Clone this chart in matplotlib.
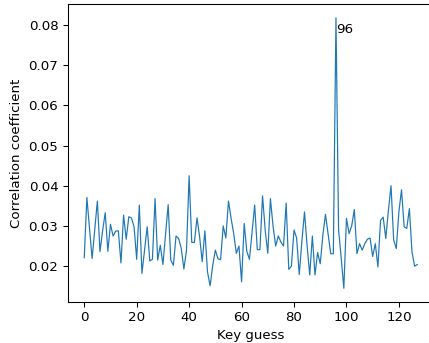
import matplotlib
matplotlib.use("Agg")
import matplotlib.pyplot as plt
import numpy as np

key_guess = list(range(128))
corr = [
    0.0221, 0.0371, 0.0295, 0.0219, 0.0290, 0.0362, 0.0236, 0.0288, 0.0333, 0.0237,
    0.0304, 0.0275, 0.0287, 0.0288, 0.0208, 0.0327, 0.0267, 0.0323, 0.0320, 0.0298,
    0.0217, 0.0352, 0.0182, 0.0240, 0.0298, 0.0213, 0.0217, 0.0368, 0.0215, 0.0252,
    0.0204, 0.0277, 0.0353, 0.0215, 0.0202, 0.0275, 0.0269, 0.0244, 0.0193, 0.0240,
    0.0425, 0.0259, 0.0259, 0.0320, 0.0273, 0.0211, 0.0288, 0.0186, 0.0151, 0.0202,
    0.0240, 0.0218, 0.0216, 0.0300, 0.0270, 0.0362, 0.0319, 0.0281, 0.0232, 0.0250,
    0.0161, 0.0306, 0.0237, 0.0217, 0.0285, 0.0352, 0.0241, 0.0241, 0.0375, 0.0290,
    0.0232, 0.0368, 0.0300, 0.0250, 0.0275, 0.0260, 0.0250, 0.0357, 0.0192, 0.0200,
    0.0290, 0.0270, 0.0179, 0.0262, 0.0335, 0.0250, 0.0178, 0.0275, 0.0178, 0.0234,
    0.0206, 0.0277, 0.0329, 0.0281, 0.0231, 0.0231, 0.0818, 0.0290, 0.0220, 0.0145,
    0.0319, 0.0281, 0.0300, 0.0341, 0.0231, 0.0256, 0.0240, 0.0256, 0.0267, 0.0270,
    0.0224, 0.0256, 0.0198, 0.0314, 0.0322, 0.0269, 0.0339, 0.0400, 0.0265, 0.0244,
    0.0335, 0.0390, 0.0298, 0.0294, 0.0343, 0.0235, 0.0200, 0.0204,
]
best_key = 96

dpi = 96
fig = plt.figure(figsize=(429 / dpi, 343 / dpi), dpi=dpi)
ax = fig.add_axes([67.6 / 429, 41.2 / 343, 366.3 / 429, 297.6 / 343])
ax.plot(key_guess, corr, color="#1f77b4", linewidth=0.9)
ax.annotate(str(best_key), xy=(best_key, corr[best_key]), xytext=(0, -4),
            textcoords="offset points", ha="left", va="top", fontsize=10)
ax.set_xlabel("Key guess")
ax.set_ylabel("Correlation coefficient")
ax.set_xticks([0, 20, 40, 60, 80, 100, 120])
ax.set_yticks([0.02, 0.03, 0.04, 0.05, 0.06, 0.07, 0.08])
fig.savefig("out.png", dpi=dpi)
